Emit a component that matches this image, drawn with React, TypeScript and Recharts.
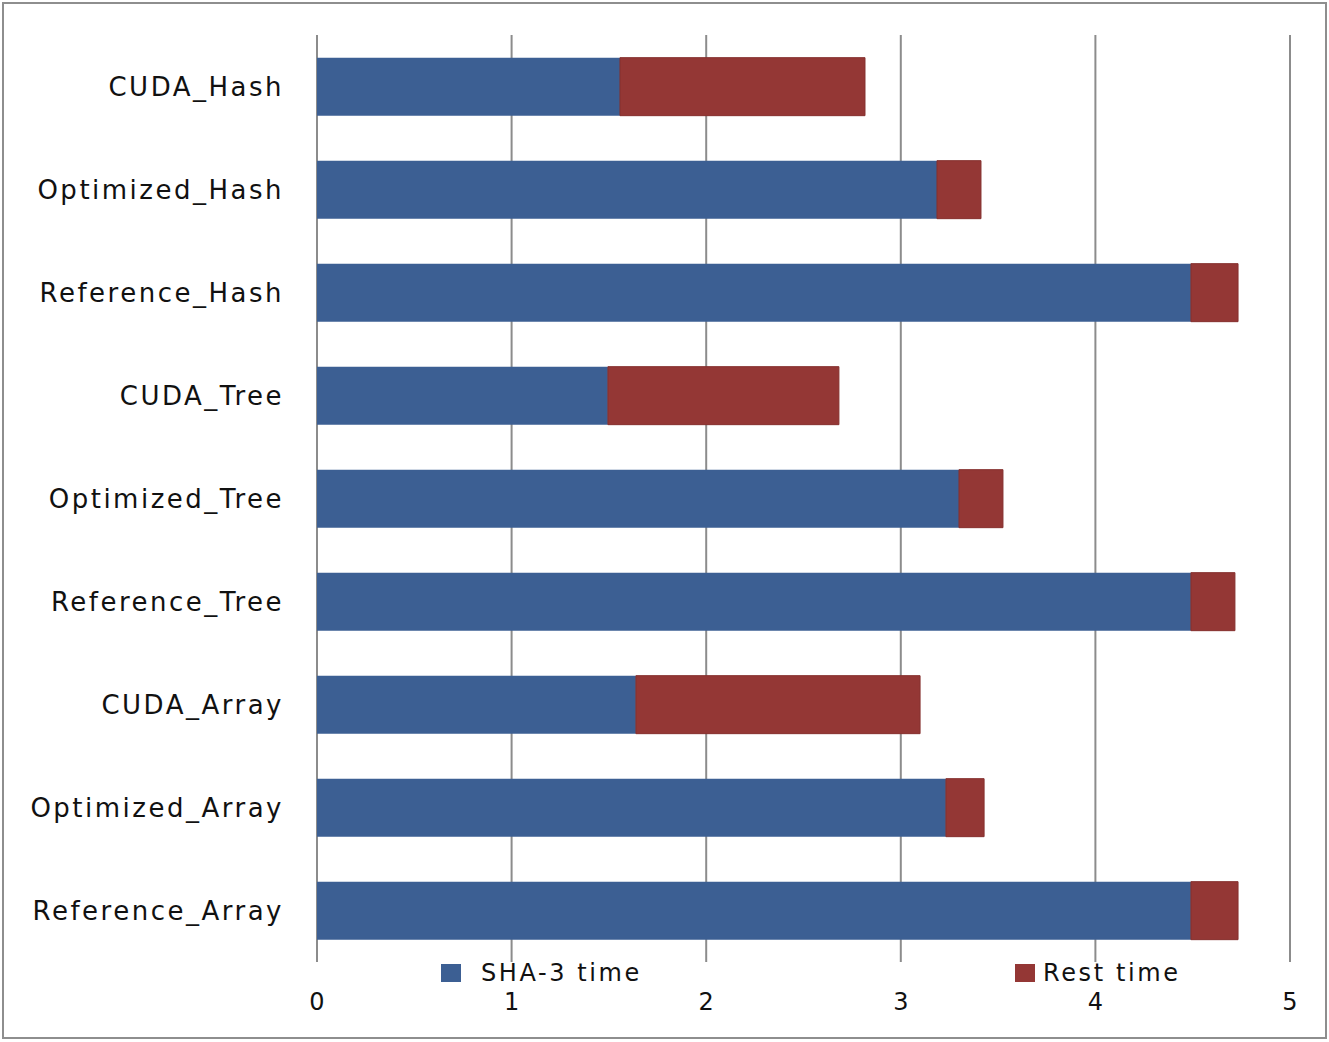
import { BarChart, Bar, CartesianGrid, XAxis, YAxis, Legend } from "recharts";

const categories = [
  "CUDA_Hash",
  "Optimized_Hash",
  "Reference_Hash",
  "CUDA_Tree",
  "Optimized_Tree",
  "Reference_Tree",
  "CUDA_Array",
  "Optimized_Array",
  "Reference_Array",
];

const sha3Time = [1.557, 3.186, 4.491, 1.495, 3.299, 4.491, 1.639, 3.232, 4.491];
const restTime = [1.259, 0.226, 0.242, 1.187, 0.226, 0.226, 1.46, 0.196, 0.242];

const xTicks = [0, 1, 2, 3, 4, 5];

const seriesNames = ["SHA-3 time", "Rest time"];

const BLUE = "#3c5f93";
const RED = "#943735";

const chartData = categories.map((name, i) => ({
  name,
  sha3: sha3Time[i],
  rest: restTime[i],
}));

const FONT = "'DejaVu Sans', Verdana, sans-serif";

// legend item placement (left of square, gap before text)
const legendSpots = [
  { left: 441, gap: 20 },
  { left: 1015, gap: 8 },
];

function renderLegend(props: any) {
  const payload = [...(props.payload || [])].sort(
    (a: any, b: any) => seriesNames.indexOf(a.value) - seriesNames.indexOf(b.value)
  );
  return (
    <div style={{ position: "relative", height: 0, width: 1329 }}>
      {payload.map((entry: any, i: number) => {
        const spot = legendSpots[i] || legendSpots[0];
        return (
          <div
            key={i}
            style={{
              position: "absolute",
              left: spot.left,
              top: 0,
              display: "flex",
              alignItems: "center",
              height: 28,
              whiteSpace: "nowrap",
            }}
          >
            <span
              style={{
                display: "inline-block",
                width: 20,
                height: 18,
                background: entry.color,
                marginRight: spot.gap,
              }}
            />
            <span
              style={{
                fontFamily: FONT,
                fontSize: 24,
                letterSpacing: 2.6,
                color: "#111",
              }}
            >
              {entry.value}
            </span>
          </div>
        );
      })}
    </div>
  );
}

export default function App() {
  return (
    <div style={{ position: "absolute", left: 0, top: 0, width: 1329, height: 1042, background: "#fff" }}>
      <div
        style={{
          position: "absolute",
          left: 2,
          top: 2,
          width: 1325,
          height: 1037,
          border: "2px solid #8e8e8e",
          boxSizing: "border-box",
        }}
      />
      <BarChart
        width={1329}
        height={1042}
        data={chartData}
        layout="vertical"
        margin={{ top: 35, right: 39, bottom: 0, left: 0 }}
        barCategoryGap="22%"
      >
        <CartesianGrid horizontal={false} stroke="#8c8c8c" strokeWidth={2} />
        <XAxis
          type="number"
          domain={[0, 5]}
          ticks={xTicks}
          axisLine={false}
          tickLine={false}
          tickSize={0}
          tickMargin={31}
          height={80}
          tick={{ fontFamily: FONT, fontSize: 24, fill: "#111" }}
        />
        <YAxis
          type="category"
          dataKey="name"
          width={317}
          axisLine={false}
          tickLine={false}
          tickSize={0}
          tickMargin={33}
          tick={{ fontFamily: FONT, fontSize: 26, fill: "#111", letterSpacing: 2.5 }}
        />
        <Legend content={renderLegend} wrapperStyle={{ position: "absolute", top: 959, left: 0, width: 1329 }} />
        <Bar dataKey="sha3" name={seriesNames[0]} stackId="t" fill={BLUE} isAnimationActive={false} />
        <Bar dataKey="rest" name={seriesNames[1]} stackId="t" fill={RED} stroke="#85302e" strokeWidth={1} isAnimationActive={false} />
      </BarChart>
    </div>
  );
}
